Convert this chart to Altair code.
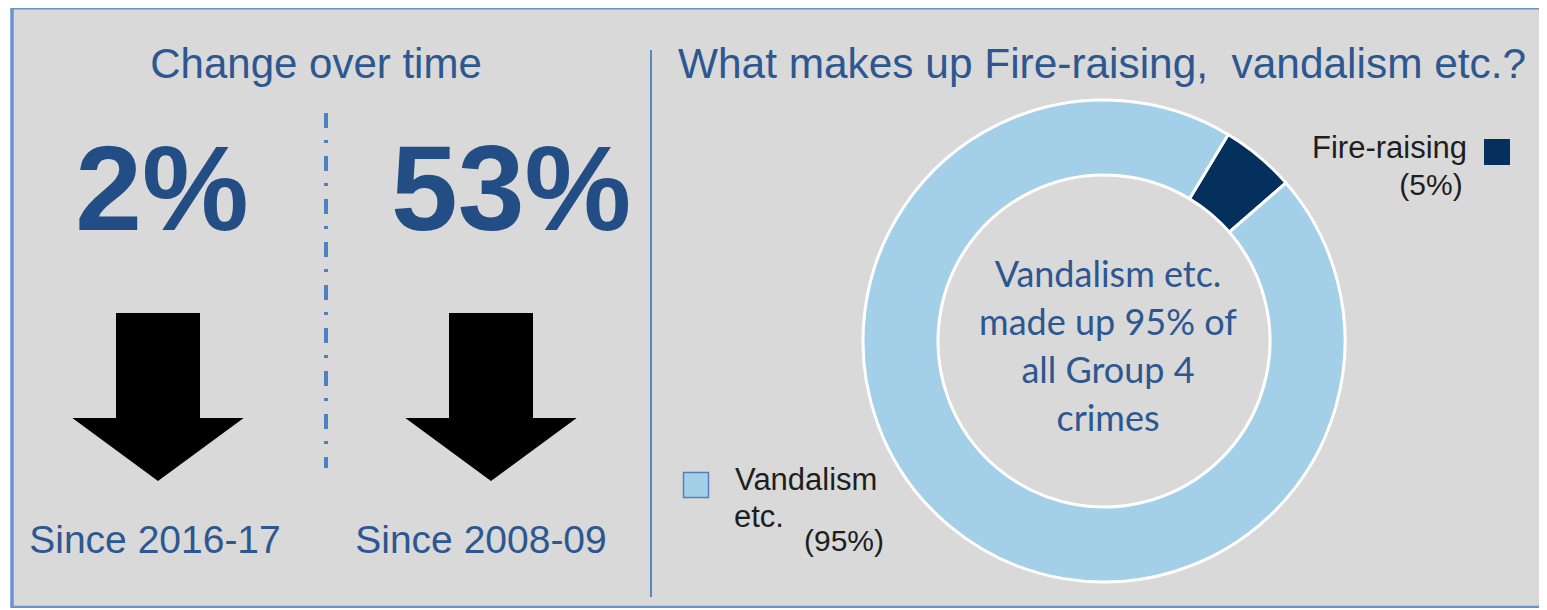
import math
import altair as alt
import pandas as pd

# ---- data -------------------------------------------------------------
periods = ["Since 2016-17", "Since 2008-09"]
decreases = [2, 53]                      # % fall
categories = ["Fire-raising", "Vandalism etc."]
shares = [5, 95]                         # % of Group 4 crimes
centre_lines = ["Vandalism etc.", "made up 95% of", "all Group 4", "crimes"]
titles = ["Change over time", "What makes up Fire-raising,\u00a0 vandalism etc.?"]

# ---- styles -----------------------------------------------------------
GREY = "#d9d9d9"
BORDER = "#6794cd"
TEXT_BLUE = "#2d5790"
NUM_BLUE = "#234d85"
NAVY = "#05305e"
LIGHT = "#a3d0e8"
SANS = "Liberation Sans, Arial, sans-serif"
CAL = "Lato, Carlito, Calibri, sans-serif"

W, H = 1531, 600
one = pd.DataFrame({"k": [0]})


def txt(s, x, y, size, color, font=SANS, weight="normal", align="center"):
    return alt.Chart(pd.DataFrame({"t": [s]})).mark_text(
        font=font, fontSize=size, color=color, fontWeight=weight,
        align=align, baseline="alphabetic"
    ).encode(text="t:N", x=alt.value(x), y=alt.value(y))


def rule(x, y, x2, y2, color, width, dash=None):
    kw = dict(color=color, strokeWidth=width)
    if dash:
        kw["strokeDash"] = dash
    return alt.Chart(one).mark_rule(**kw).encode(
        x=alt.value(x), y=alt.value(y), x2=alt.value(x2), y2=alt.value(y2))


layers = []

# frame (left, top and bottom edges visible; right edge runs off the picture)
layers.append(alt.Chart(one).mark_rect(fill=GREY, strokeWidth=0).encode(
    x=alt.value(4), x2=alt.value(W), y=alt.value(0), y2=alt.value(H)))
layers.append(rule(4, 0, 4, H, BORDER, 3.5))
layers.append(rule(4, 0, W, 0, BORDER, 3))
layers.append(rule(4, H - 1, W, H - 1, BORDER, 2.5))

# dividers
layers.append(rule(643, 42, 643, 589, "#5b87c1", 2))
layers.append(rule(318, 105, 318, 460, "#4a82c4", 4, [15, 12, 3, 13]))

# titles
layers.append(txt(titles[0], 308, 70, 42, TEXT_BLUE))
layers.append(txt(titles[1], 670, 70, 42.4, TEXT_BLUE, align="left"))

# big numbers, arrows, period labels
num_x = [154, 503]
arrow_x = [150, 483]
lab_x = [147, 473]
arrow_path = "M-0.5,-1L0.5,-1L0.5,0.25L1.02,0.25L0,1L-1.02,0.25L-0.5,0.25Z"
for i, (p, d) in enumerate(zip(periods, decreases)):
    layers.append(txt(f"{d}%", num_x[i], 222, 120, NUM_BLUE, weight="bold"))
    layers.append(alt.Chart(pd.DataFrame({"period": [p]})).mark_point(
        shape=arrow_path, filled=True, color="black", opacity=1, strokeWidth=0,
        size=168 * 168).encode(x=alt.value(arrow_x[i]), y=alt.value(389)))
    layers.append(txt(p, lab_x[i], 545, 39, TEXT_BLUE))

# donut
donut_df = pd.DataFrame({"category": categories, "share": shares})
start = math.radians(31)
layers.append(alt.Chart(donut_df).mark_arc(
    outerRadius=241, innerRadius=166, stroke="white", strokeWidth=3
).encode(
    theta=alt.Theta("share:Q", stack=True,
                    scale=alt.Scale(domain=[0, sum(shares)], range=[start, start + 2 * math.pi])),
    color=alt.Color("category:N", scale=alt.Scale(domain=categories, range=[NAVY, LIGHT]),
                    legend=None),
    order=alt.Order("category:N", sort="ascending"),
    x=alt.value(1096), y=alt.value(333),
))

# centre text
for j, line in enumerate(centre_lines):
    layers.append(txt(line, 1100, 279 + j * 48, 36, TEXT_BLUE, font=CAL))

# legend (manual, as in the original)
layers.append(alt.Chart(one).mark_point(shape="square", filled=True, color=NAVY, opacity=1,
                                        size=26 * 26).encode(x=alt.value(1489), y=alt.value(144)))
layers.append(txt(categories[0], 1304, 150, 31, "#1e1e1e", align="left"))
layers.append(txt(f"({shares[0]}%)", 1423, 187, 30, "#1e1e1e"))

layers.append(alt.Chart(one).mark_point(shape="square", filled=True, fill=LIGHT, opacity=1,
                                        stroke="#5580b8", strokeWidth=1.5,
                                        size=25 * 25).encode(x=alt.value(688), y=alt.value(477)))
cat2 = categories[1].split(" ")
layers.append(txt(cat2[0], 727, 482, 31, "#1e1e1e", align="left"))
layers.append(txt(cat2[1], 726, 519, 31, "#1e1e1e", align="left"))
layers.append(txt(f"({shares[1]}%)", 796, 543, 30, "#1e1e1e", align="left"))

chart = alt.layer(*layers).properties(
    width=W, height=H,
    autosize=alt.AutoSizeParams(type="none"),
    padding=0,
    background="white",
).configure_view(stroke=None)

chart.save("out.html", embed_options={"renderer": "svg", "actions": False})
